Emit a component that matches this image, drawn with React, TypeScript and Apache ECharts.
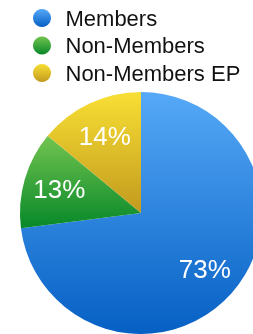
import React, { useEffect, useRef } from "react";
import * as echarts from "echarts";

const categories = ["Members", "Non-Members", "Non-Members EP"];
const values = [73, 13, 14];
const topColors = ["#56a9f7", "#72c44f", "#f8df34"];
const bottomColors = ["#0660c4", "#078829", "#c29a1e"];

export default function App() {
  const ref = useRef<HTMLDivElement>(null);
  useEffect(() => {
    if (!ref.current) return;
    const chart = echarts.init(ref.current, null, { renderer: "svg" });
    const font = "'Liberation Sans', Arial, Helvetica, sans-serif";
    const data = categories.map((name, i) => ({
      name,
      value: values[i],
      itemStyle: {
        color: new echarts.graphic.LinearGradient(0, 0, 0, 1, [
          { offset: 0, color: topColors[i] },
          { offset: 1, color: bottomColors[i] },
        ]),
      },
    }));
    chart.setOption({
      animation: false,
      legend: {
        orient: "vertical",
        left: 28,
        top: 2,
        icon: "circle",
        itemWidth: 37,
        itemHeight: 18,
        itemGap: 5.5,
        selectedMode: false,
        textStyle: { fontSize: 22, fontFamily: font, color: "#111", lineHeight: 22 },
        data: categories,
      },
      series: [
        {
          type: "pie",
          center: [141, 213],
          radius: 121,
          startAngle: 90,
          clockwise: true,
          silent: true,
          label: { show: false },
          labelLine: { show: false },
          itemStyle: { borderWidth: 0 },
          data,
        },
        {
          type: "pie",
          center: [141, 213],
          radius: 164,
          startAngle: 90,
          clockwise: true,
          silent: true,
          percentPrecision: 0,
          itemStyle: { color: "rgba(0,0,0,0)", borderWidth: 0 },
          label: {
            show: true,
            position: "inside",
            formatter: "{d}%",
            color: "#fff",
            fontSize: 26,
            fontFamily: font,
          },
          labelLine: { show: false },
          data: categories.map((name, i) => ({ name, value: values[i] })),
        },
      ],
    });
    return () => chart.dispose();
  }, []);
  return (
    <div
      ref={ref}
      style={{ position: "fixed", left: 0, top: 0, width: 253, height: 334 }}
    />
  );
}
